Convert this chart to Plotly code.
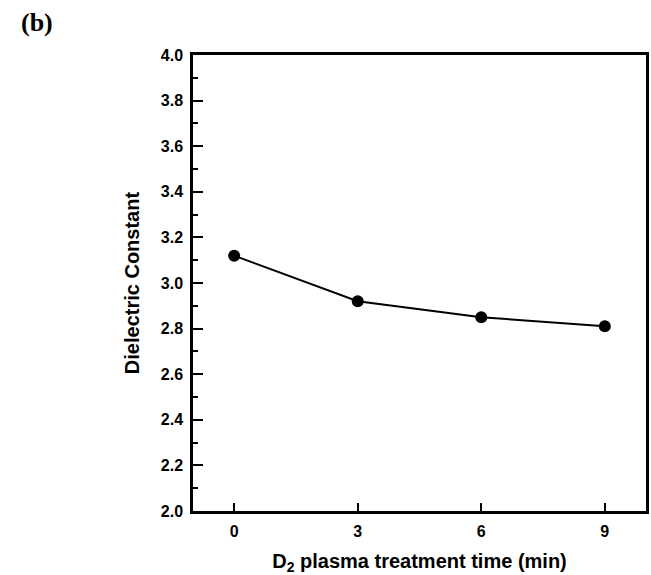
import plotly.graph_objects as go

# D2 plasma treatment time (min) and measured dielectric constant
treatment_time = [0, 3, 6, 9]
dielectric_constant = [3.12, 2.92, 2.85, 2.81]

fig = go.Figure()
fig.add_trace(go.Scatter(
    x=treatment_time,
    y=dielectric_constant,
    mode="lines+markers",
    line=dict(color="black", width=2),
    marker=dict(color="black", size=12),
    showlegend=False,
))

axis_font = dict(family="Liberation Sans, Arial, sans-serif", size=16, color="black", weight="bold")
title_font = dict(family="Liberation Sans, Arial, sans-serif", size=20, color="black", weight="bold")

fig.update_xaxes(
    range=[-1, 10],
    tickvals=treatment_time,
    ticks="inside",
    ticklen=8,
    tickwidth=2,
    tickcolor="black",
    showline=True,
    linewidth=2.5,
    linecolor="black",
    mirror=True,
    showgrid=False,
    zeroline=False,
    tickfont=axis_font,
    ticklabelstandoff=4,
    title=dict(text="D<sub>2</sub> plasma treatment time (min)", font=title_font, standoff=19),
)
fig.update_yaxes(
    range=[2.0, 4.0],
    dtick=0.2,
    tickformat=".1f",
    ticks="inside",
    ticklen=10,
    tickwidth=2,
    tickcolor="black",
    minor=dict(ticks="inside", ticklen=5, tickwidth=2, tickcolor="black", dtick=0.1),
    showline=True,
    linewidth=2.5,
    linecolor="black",
    mirror=True,
    showgrid=False,
    zeroline=False,
    tickfont=axis_font,
    ticklabelstandoff=4,
    title=dict(text="Dielectric Constant", font=title_font, standoff=16),
)

fig.add_annotation(
    text="(b)", xref="paper", yref="paper",
    x=-0.385, y=1.072, xanchor="left", yanchor="middle",
    showarrow=False,
    font=dict(family="Liberation Serif, Times New Roman, serif", size=26, color="black", weight="bold"),
)

fig.update_layout(
    width=651, height=575,
    margin=dict(l=193, r=2, t=55, b=64),
    paper_bgcolor="white",
    plot_bgcolor="white",
)

fig.write_html("out.html")
